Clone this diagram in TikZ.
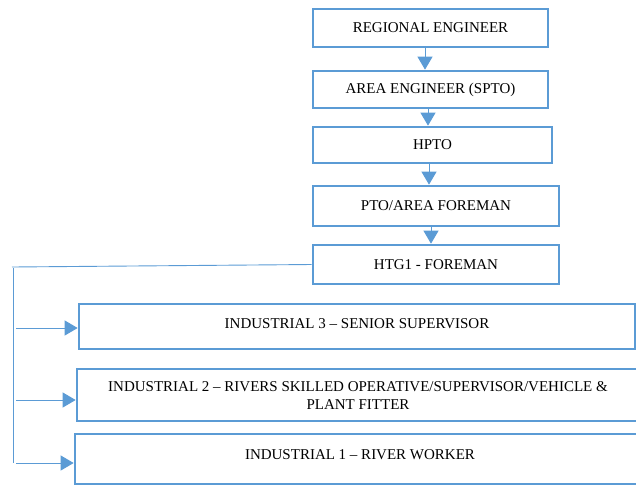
\documentclass[tikz,border=0pt]{standalone}
\usepackage{fontspec}
\setmainfont{Liberation Serif}
\usetikzlibrary{arrows.meta}
\definecolor{wblue}{HTML}{5B9BD5}
\begin{document}
\begin{tikzpicture}[x=1pt,y=-1pt,
  box/.style={draw=wblue,line width=2.7pt,rectangle,inner sep=0pt,font=\fontsize{15}{18}\selectfont,align=center},
  lbl/.style={inner sep=0pt,font=\fontsize{15}{18}\selectfont,align=center},
  arr/.style={draw=wblue,line width=1pt,-{Triangle[length=13pt,width=15pt]}},
  conn/.style={draw=wblue,line width=0.9pt}]
\useasboundingbox (0,0) rectangle (636,485);
% top chain
\node[box,minimum width=235pt,minimum height=38pt] (b1) at (430.5,28) {REGIONAL ENGINEER};
\node[box,minimum width=235pt,minimum height=37pt] (b2) at (430.5,89.5) {AREA ENGINEER (SPTO)};
\node[box,minimum width=239pt,minimum height=36pt] (b3) at (432.5,145) {HPTO};
\node[box,minimum width=246pt,minimum height=40pt] (b4) at (436,206) {PTO/AREA FOREMAN};
\node[box,minimum width=246pt,minimum height=39pt] (b5) at (436,264.5) {HTG1 - FOREMAN};
% industrial boxes
\node[box,minimum width=556pt,minimum height=45pt] (i3) at (357,326.5) {};
\node[lbl] (i3t) at (357,323.5) {INDUSTRIAL 3 – SENIOR SUPERVISOR};
\node[box,minimum width=563pt,minimum height=52pt] (i2) at (358.5,395) {};
\begin{scope}
\clip (78,370) rectangle (639,408);
\node[lbl,anchor=north] (i2t) at (358,381.5) {INDUSTRIAL 2 – RIVERS SKILLED OPERATIVE/SUPERVISOR/VEHICLE \&\\PLANT FITTER};
\end{scope}
\node[box,minimum width=570pt,minimum height=50pt] (i1) at (360,459) {};
\node[lbl] (i1t) at (360,454.5) {INDUSTRIAL 1 – RIVER WORKER};
% vertical arrows
\coordinate (x1) at (425,0);
\coordinate (x2) at (428,0);
\coordinate (x3) at (429,0);
\coordinate (x4) at (431,0);
\draw[arr] (b1.south -| x1) -- (b2.north -| x1);
\draw[arr] (b2.south -| x2) -- (b3.north -| x2);
\draw[arr] (b3.south -| x3) -- (b4.north -| x3);
\draw[arr] (b4.south -| x4) -- (b5.north -| x4);
% left connector
\coordinate (c1) at (12,267);
\coordinate (c2) at (13,267.5);
\coordinate (c3) at (13,463);
\draw[conn] (b5.west) -- (c1);
\draw[conn] (c2) -- (c3);
\coordinate (y3) at (16,328);
\coordinate (y2) at (16,400);
\coordinate (y1) at (16,463);
\draw[arr] (y3) -- (i3.west |- y3);
\draw[arr] (y2) -- (i2.west |- y2);
\draw[arr] (y1) -- (i1.west |- y1);
\end{tikzpicture}
\end{document}
